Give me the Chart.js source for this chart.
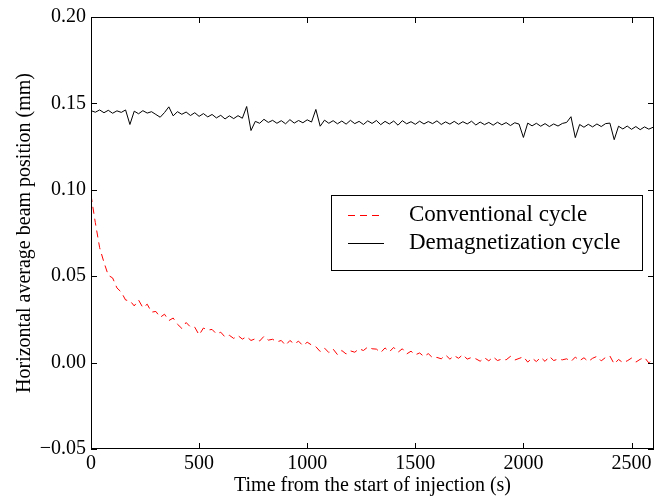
<!DOCTYPE html>
<html>
<head>
<meta charset="utf-8">
<script src="https://cdn.jsdelivr.net/npm/chart.js@4/dist/chart.umd.min.js"></script>
<style>
    html, body { margin: 0; padding: 0; background: #fff; }
    #wrap { width: 664px; height: 504px; }
</style>
</head>
<body>
<div id="wrap"><canvas id="chart" width="664" height="504"></canvas></div>
<script>
// sampling every 20 s, from 0 to 2600 s
const SAMPLE_STEP = 20;

const xTickValues = [0, 500, 1000, 1500, 2000, 2500];
const yTickValues = [-0.05, 0.00, 0.05, 0.10, 0.15, 0.20];

const conventional = [
    0.0970, 0.0810, 0.0665, 0.0580, 0.0505, 0.0490, 0.0432, 0.0408, 0.0362, 0.0358,
    0.0328, 0.0362, 0.0318, 0.0338, 0.0292, 0.0296, 0.0262, 0.0280, 0.0243, 0.0258,
    0.0222, 0.0198, 0.0232, 0.0206, 0.0205, 0.0160, 0.0200, 0.0188, 0.0192, 0.0166,
    0.0176, 0.0148, 0.0158, 0.0140, 0.0156, 0.0136, 0.0150, 0.0128, 0.0138, 0.0125,
    0.0152, 0.0130, 0.0135, 0.0120, 0.0128, 0.0100, 0.0128, 0.0108, 0.0124, 0.0098,
    0.0118, 0.0102, 0.0092, 0.0064, 0.0084, 0.0058, 0.0078, 0.0046, 0.0070, 0.0050,
    0.0068, 0.0060, 0.0080, 0.0070, 0.0090, 0.0080, 0.0078, 0.0058, 0.0085, 0.0062,
    0.0088, 0.0060, 0.0080, 0.0050, 0.0066, 0.0045, 0.0056, 0.0035, 0.0052, 0.0028,
    0.0030, 0.0022, 0.0044, 0.0020, 0.0040, 0.0025, 0.0046, 0.0020, 0.0030, 0.0022,
    0.0008, 0.0028, 0.0010, 0.0033, 0.0012, 0.0020, 0.0016, 0.0036, 0.0015, 0.0024,
    0.0034, 0.0003, 0.0026, 0.0006, 0.0031, 0.0007, 0.0036, 0.0012, 0.0020, 0.0016,
    0.0022, 0.0006, 0.0032, 0.0011, 0.0028, 0.0006, 0.0025, 0.0036, 0.0010, 0.0030,
    0.0038, -0.0008, 0.0018, 0.0000, 0.0010, 0.0026, 0.0003, 0.0019, 0.0030, -0.0002,
    0.0024
];

const demagnetization = [
    0.1458, 0.1449, 0.1462, 0.1446, 0.1460, 0.1443, 0.1457, 0.1448, 0.1462, 0.1378,
    0.1455, 0.1440, 0.1458, 0.1444, 0.1452, 0.1436, 0.1420, 0.1447, 0.1480, 0.1428,
    0.1452, 0.1437, 0.1450, 0.1430, 0.1446, 0.1425, 0.1441, 0.1422, 0.1436, 0.1416,
    0.1431, 0.1410, 0.1428, 0.1412, 0.1429, 0.1414, 0.1482, 0.1343, 0.1396, 0.1385,
    0.1408, 0.1390, 0.1402, 0.1385, 0.1400, 0.1382, 0.1406, 0.1386, 0.1401, 0.1388,
    0.1405, 0.1392, 0.1465, 0.1368, 0.1403, 0.1385, 0.1400, 0.1382, 0.1398, 0.1380,
    0.1402, 0.1383, 0.1396, 0.1378, 0.1399, 0.1384, 0.1401, 0.1377, 0.1396, 0.1381,
    0.1398, 0.1374, 0.1400, 0.1382, 0.1394, 0.1379, 0.1397, 0.1381, 0.1395, 0.1383,
    0.1399, 0.1378, 0.1393, 0.1380, 0.1396, 0.1379, 0.1394, 0.1381, 0.1397, 0.1375,
    0.1392, 0.1377, 0.1390, 0.1374, 0.1391, 0.1376, 0.1389, 0.1372, 0.1388, 0.1380,
    0.1303, 0.1386, 0.1370, 0.1385, 0.1368, 0.1383, 0.1366, 0.1381, 0.1369, 0.1384,
    0.1390, 0.1423, 0.1302, 0.1378, 0.1362, 0.1379, 0.1364, 0.1381, 0.1366, 0.1383,
    0.1386, 0.1290, 0.1368, 0.1352, 0.1369, 0.1350, 0.1366, 0.1348, 0.1364, 0.1351,
    0.1362
];

const seriesLabels = ['Conventional cycle', 'Demagnetization cycle'];
const xTitle = 'Time from the start of injection (s)';
const yTitle = 'Horizontal average beam position (mm)';

const FONT = '"Liberation Serif", "Times New Roman", "DejaVu Serif", serif';

const toPoints = (arr) => arr.map((v, i) => ({ x: i * SAMPLE_STEP, y: v }));

// frame with inward ticks on all four sides, like the original plot
const framePlugin = {
    id: 'frame',
    afterDatasetsDraw(chart) {
        const { ctx, chartArea: a, scales } = chart;
        const TL = 6;
        ctx.save();
        ctx.strokeStyle = '#000';
        ctx.lineWidth = 1;
        ctx.strokeRect(Math.round(a.left) + 0.5, Math.round(a.top) + 0.5,
            Math.round(a.right - a.left) - 1, Math.round(a.bottom - a.top) - 1);
        ctx.beginPath();
        scales.x.ticks.forEach((t) => {
            const px = Math.round(scales.x.getPixelForValue(t.value)) + 0.5;
            ctx.moveTo(px, a.bottom); ctx.lineTo(px, a.bottom - TL);
            ctx.moveTo(px, a.top); ctx.lineTo(px, a.top + TL);
        });
        scales.y.ticks.forEach((t) => {
            const py = Math.round(scales.y.getPixelForValue(t.value)) + 0.5;
            ctx.moveTo(a.left, py); ctx.lineTo(a.left + TL, py);
            ctx.moveTo(a.right, py); ctx.lineTo(a.right - TL, py);
        });
        ctx.stroke();
        ctx.restore();
    }
};

const legendPlugin = {
    id: 'boxLegend',
    afterDraw(chart) {
        const { ctx } = chart;
        const box = { x: 331.5, y: 195.5, w: 311, h: 75 };
        ctx.save();
        ctx.fillStyle = '#fff';
        ctx.fillRect(box.x, box.y, box.w, box.h);
        ctx.strokeStyle = '#000';
        ctx.lineWidth = 1;
        ctx.strokeRect(box.x, box.y, box.w, box.h);
        const rows = [215, 243];
        chart.data.datasets.forEach((ds, i) => {
            ctx.beginPath();
            ctx.strokeStyle = ds.borderColor;
            ctx.setLineDash(ds.borderDash || []);
            ctx.moveTo(348, rows[i] + 0.5);
            ctx.lineTo(384, rows[i] + 0.5);
            ctx.stroke();
            ctx.setLineDash([]);
            ctx.fillStyle = '#000';
            ctx.font = '23px ' + FONT;
            ctx.textBaseline = 'middle';
            ctx.fillText(ds.label, 409, rows[i]);
        });
        ctx.restore();
    }
};

new Chart(document.getElementById('chart'), {
    type: 'line',
    data: {
        datasets: [
            {
                label: seriesLabels[0],
                data: toPoints(conventional),
                borderColor: '#ff0000',
                borderWidth: 1,
                borderDash: [7, 5],
                pointRadius: 0,
                tension: 0
            },
            {
                label: seriesLabels[1],
                data: toPoints(demagnetization),
                borderColor: '#000000',
                borderWidth: 1,
                pointRadius: 0,
                tension: 0
            }
        ]
    },
    options: {
        responsive: false,
        animation: false,
        events: [],
        layout: { padding: { top: 15, right: 10, left: 0, bottom: 0 } },
        plugins: {
            legend: { display: false },
            tooltip: { enabled: false }
        },
        scales: {
            x: {
                type: 'linear',
                min: 0,
                max: 2604,
                grid: { display: false, drawTicks: false },
                border: { display: false },
                afterBuildTicks: (s) => { s.ticks = xTickValues.map((v) => ({ value: v })); },
                ticks: {
                    maxRotation: 0,
                    autoSkip: false,
                    padding: 3,
                    color: '#000',
                    font: { family: FONT, size: 20 },
                    callback: (v) => String(v)
                },
                title: {
                    display: true,
                    text: xTitle,
                    color: '#000',
                    padding: { top: 0, bottom: 6 },
                    font: { family: FONT, size: 20 }
                },
                afterFit: (s) => { s.height = 55; }
            },
            y: {
                min: -0.05,
                max: 0.20,
                grid: { display: false, drawTicks: false },
                border: { display: false },
                afterBuildTicks: (s) => { s.ticks = yTickValues.map((v) => ({ value: v })); },
                ticks: {
                    autoSkip: false,
                    padding: 5,
                    color: '#000',
                    font: { family: FONT, size: 20 },
                    callback: (v) => Number(v).toFixed(2).replace('-', '\u2212')
                },
                title: {
                    display: true,
                    text: yTitle,
                    color: '#000',
                    padding: { top: 13, bottom: 0 },
                    font: { family: FONT, size: 20 }
                },
                afterFit: (s) => { s.width = 91; }
            }
        }
    },
    plugins: [framePlugin, legendPlugin]
});
</script>
</body>
</html>
